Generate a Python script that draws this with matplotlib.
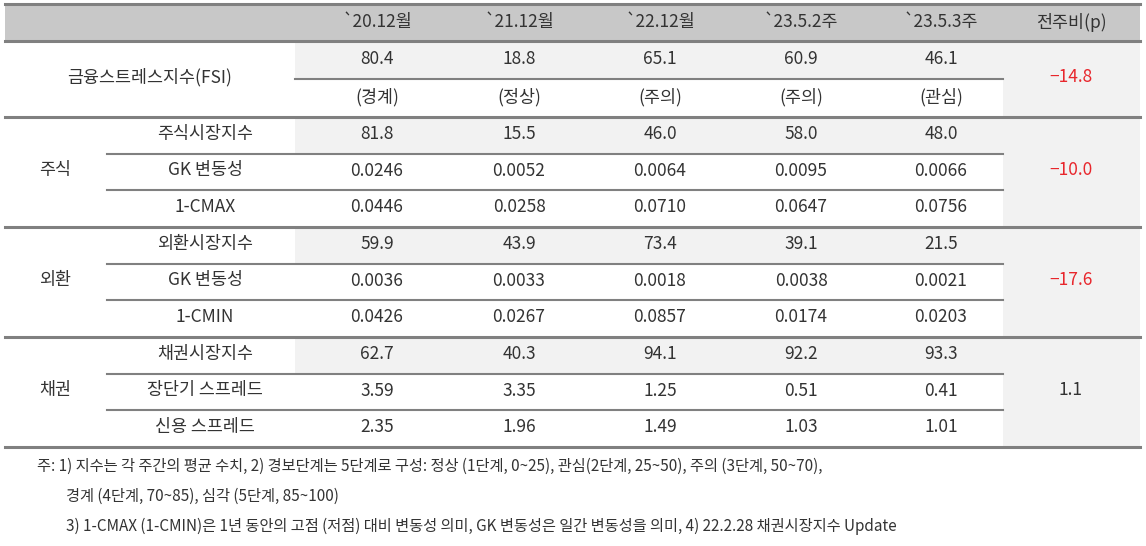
import matplotlib
matplotlib.use("Agg")
import matplotlib.pyplot as plt
from matplotlib import font_manager

names = {f.name for f in font_manager.fontManager.ttflist}
cjk = [n for n in ["Noto Sans CJK KR", "Noto Sans CJK JP", "Noto Sans CJK SC", "Noto Sans CJK TC"] if n in names]
plt.rcParams["font.family"] = cjk + ["DejaVu Sans"]

columns = ["`20.12월", "`21.12월", "`22.12월", "`23.5.2주", "`23.5.3주"]
groups = ["주식", "외환", "채권"]
sub_labels = [["주식시장지수", "GK 변동성", "1-CMAX"],
              ["외환시장지수", "GK 변동성", "1-CMIN"],
              ["채권시장지수", "장단기 스프레드", "신용 스프레드"]]
fsi_values = ["80.4", "18.8", "65.1", "60.9", "46.1"]
fsi_stages = ["(경계)", "(정상)", "(주의)", "(주의)", "(관심)"]
fsi_change = "-14.8"
group_values = [
    [["81.8", "15.5", "46.0", "58.0", "48.0"],
     ["0.0246", "0.0052", "0.0064", "0.0095", "0.0066"],
     ["0.0446", "0.0258", "0.0710", "0.0647", "0.0756"]],
    [["59.9", "43.9", "73.4", "39.1", "21.5"],
     ["0.0036", "0.0033", "0.0018", "0.0038", "0.0021"],
     ["0.0426", "0.0267", "0.0857", "0.0174", "0.0203"]],
    [["62.7", "40.3", "94.1", "92.2", "93.3"],
     ["3.59", "3.35", "1.25", "0.51", "0.41"],
     ["2.35", "1.96", "1.49", "1.03", "1.01"]],
]
group_change = ["-10.0", "-17.6", "1.1"]
notes = ["주: 1) 지수는 각 주간의 평균 수치, 2) 경보단계는 5단계로 구성: 정상 (1단계, 0~25), 관심(2단계, 25~50), 주의 (3단계, 50~70),",
         "경계 (4단계, 70~85), 심각 (5단계, 85~100)",
         "3) 1-CMAX (1-CMIN)은 1년 동안의 고점 (저점) 대비 변동성 의미, GK 변동성은 일간 변동성을 의미, 4) 22.2.28 채권시장지수 Update"]

W, H = 1146, 546
fig = plt.figure(figsize=(W / 100, H / 100), dpi=100)
ax = fig.add_axes([0, 0, 1, 1])
ax.set_xlim(0, W); ax.set_ylim(H, 0); ax.axis("off")

L, R = 5, 1140
DL, DR = 295, 1003
col_x = [377, 519, 660, 801, 941]
chg_x = 1071
TXT = "#333333"; RED = "#e8262c"; LINE = "#808080"; LIGHT = "#f2f2f2"
FS = 12.5

def txt(x, y, s, color=TXT, ha="center", size=FS):
    ax.text(x, y, s, ha=ha, va="center", color=color, fontsize=size)

# header
ax.add_patch(plt.Rectangle((L, 4), R - L, 37, color="#c8c8c8", lw=0))
for x, c in zip(col_x, columns):
    txt(x, 22, c)
txt(chg_x, 22, "전주비(p)")

# FSI block
top = 41
ax.add_patch(plt.Rectangle((DL, top), DR - DL, 38, color=LIGHT, lw=0))
ax.add_patch(plt.Rectangle((DR, top), R - DR, 76, color=LIGHT, lw=0))
txt(150, 77, "금융스트레스지수(FSI)")
for x, v, s in zip(col_x, fsi_values, fsi_stages):
    txt(x, 59, v); txt(x, 97, s)
txt(chg_x, 77, fsi_change.replace("-", "−"), color=RED)
ax.plot([DL, DR], [79, 79], color=LINE, lw=1.5)

# groups
for g in range(3):
    y0 = 117 + g * 110
    ax.add_patch(plt.Rectangle((DL, y0), DR - DL, 37, color=LIGHT, lw=0))
    ax.add_patch(plt.Rectangle((DR, y0), R - DR, 110, color=LIGHT, lw=0))
    txt(55, y0 + 53, groups[g])
    c = group_change[g]
    txt(chg_x, y0 + 53, c.replace("-", "−"), color=RED if c.startswith("-") else TXT)
    for r in range(3):
        yc = y0 + 17 + r * 36.5
        txt(205, yc, sub_labels[g][r])
        for x, v in zip(col_x, group_values[g][r]):
            txt(x, yc, v)
        if r > 0:
            ax.plot([107, DR], [y0 + r * 36.7] * 2, color=LINE, lw=1.5)

for y in [4, 41, 117, 227, 337, 447]:
    ax.plot([L, R], [y, y], color=LINE, lw=2.2)

txt(37, 466, notes[0], ha="left", size=11)
txt(66, 496, notes[1], ha="left", size=11)
txt(66, 526, notes[2], ha="left", size=11)

fig.savefig("out.png", dpi=100)
